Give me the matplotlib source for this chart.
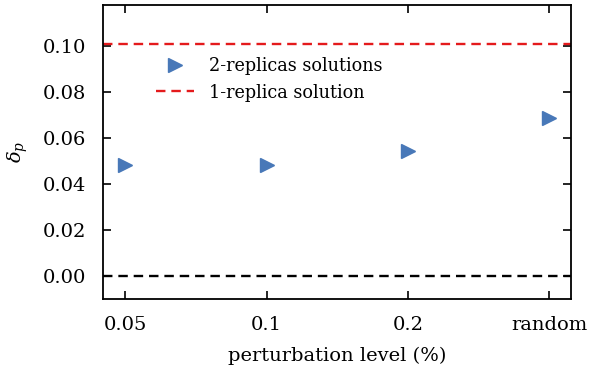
import numpy as np
import matplotlib.pyplot as plt

plt.rcParams['font.family'] = 'DejaVu Serif'
plt.rcParams['mathtext.fontset'] = 'dejavuserif'

# data
levels = ['0.05', '0.1', '0.2', 'random']
delta_2rep = [0.0485, 0.0485, 0.0546, 0.0686]
delta_1rep = 0.101

fig, ax = plt.subplots(figsize=(5.9, 3.68), dpi=100)
fig.subplots_adjust(left=0.175, right=0.968, top=0.986, bottom=0.188)

x = np.arange(len(levels))
ax.plot(x, delta_2rep, linestyle='none', marker='>', ms=9.5, color='#4878b8',
        label='2-replicas solutions')
ax.axhline(delta_1rep, color='#e41a1c', ls='--', lw=1.7, dashes=(4, 2.5),
           label='1-replica solution')
ax.axhline(0, color='black', ls='--', lw=1.7, dashes=(4, 2.5))

ax.set_xticks(x)
ax.set_xticklabels(levels)
ax.set_xlim(-0.155, 3.155)
ax.set_ylim(-0.010, 0.118)
ax.set_yticks([0.0, 0.02, 0.04, 0.06, 0.08, 0.10])

ax.tick_params(direction='in', top=True, right=True, length=5.5, width=1.2,
               labelsize=14, pad=12.5)
for s in ax.spines.values():
    s.set_linewidth(1.3)

ax.set_xlabel('perturbation level (%)', fontsize=14, labelpad=9)
ax.set_ylabel(r'$\delta_p$', fontsize=14, labelpad=9)

ax.legend(loc='upper left', bbox_to_anchor=(0.078, 0.878), frameon=False,
          fontsize=12.7, handlelength=2.2, numpoints=1)

plt.savefig('out.png', dpi=100)
